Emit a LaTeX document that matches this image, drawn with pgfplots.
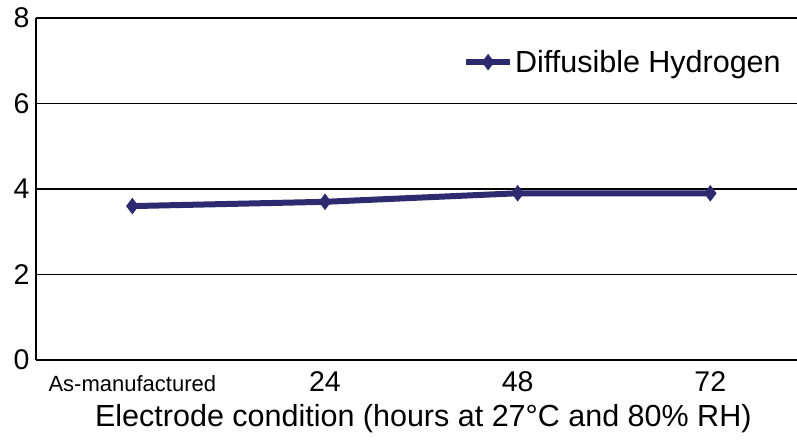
\documentclass[border=0pt]{standalone}
\usepackage{pgfplots}
\pgfplotsset{compat=1.18}
\usepackage{fontspec}
\setmainfont{Liberation Sans}
\definecolor{navy}{RGB}{46,42,112}
\begin{document}
\begin{tikzpicture}
\begin{axis}[
  scale only axis, width=761pt, height=342pt,
  xmin=-0.5, xmax=3.45, ymin=0, ymax=8,
  xtick={0,1,2,3},
  xticklabels={{\fontsize{22}{24}\selectfont As-manufactured},24,48,72},
  ytick={0,2,4,6,8},
  ymajorgrids, grid style={black, line width=1.8pt},
  axis x line*=bottom, axis y line*=left,
  axis line style={black, line width=2pt, -},
  major tick style={draw=none},
  major tick length=0pt,
  tick label style={font=\fontsize{28.5}{30}\selectfont},
  /pgf/number format/assume math mode=true,
  xticklabel style={anchor=base, yshift=-32pt},
  yticklabel style={xshift=-3pt},
  xlabel={Electrode condition (hours at 27°C and 80\% RH)},
  xlabel style={at={(axis description cs:0.509,0)}, anchor=base, yshift=-67pt, font=\fontsize{30.5}{32}\selectfont},
  legend style={at={(axis description cs:0.561,0.871)}, anchor=west, draw=none, fill=none,
    font=\fontsize{30.5}{32}\selectfont, inner sep=0pt},
  legend cell align=left,
  legend image code/.code={\draw[mark repeat=2, mark phase=2, #1] plot coordinates {(0pt,0pt) (22pt,0pt) (44pt,0pt)};},
]
\addplot[color=navy, line width=6pt, mark=diamond*, mark size=7.5pt,
  mark options={solid, fill=navy, line width=1pt}]
  coordinates {(0,3.6) (1,3.7) (2,3.9) (3,3.9)};
\addlegendentry{Diffusible Hydrogen}
\end{axis}
\pgfresetboundingbox
\useasboundingbox ([xshift=-36pt,yshift=-81pt]current axis.south west) rectangle ([yshift=18pt]current axis.north east);
\end{tikzpicture}
\end{document}
